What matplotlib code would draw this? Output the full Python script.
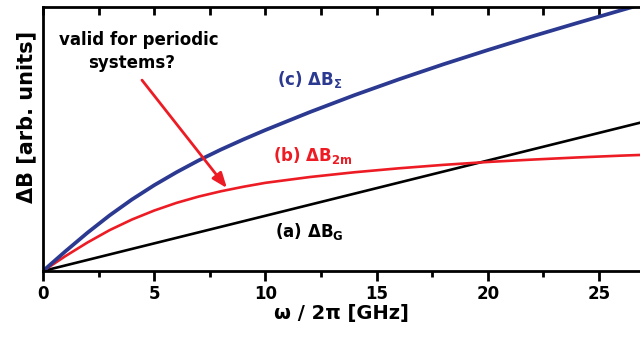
import numpy as np
import matplotlib.pyplot as plt
from matplotlib.ticker import MultipleLocator

plt.rcParams['font.family'] = 'DejaVu Sans'
plt.rcParams['font.weight'] = 'bold'
plt.rcParams['mathtext.default'] = 'bf'

# frequency omega/2pi in GHz and field contributions (arb. units)
freq = [0, 1, 2, 3, 4, 5, 6, 7, 8, 9, 10, 12, 14, 16, 18, 20, 22, 24, 26, 27]
dB_sigma = [0, 0.074, 0.145, 0.211, 0.271, 0.325, 0.374, 0.419, 0.460, 0.498,
            0.534, 0.602, 0.666, 0.726, 0.783, 0.837, 0.889, 0.939, 0.988, 1.012]
dB_2m = [0, 0.056, 0.108, 0.155, 0.195, 0.229, 0.258, 0.282, 0.302, 0.319,
         0.334, 0.356, 0.374, 0.389, 0.402, 0.413, 0.422, 0.430, 0.437, 0.440]

freq_G = [0, 27]
dB_G = [0, 0.565]

blue = '#2b3990'
red = '#ed1c24'

fig = plt.figure(figsize=(6.4, 3.37), dpi=100)
ax = fig.add_axes([43 / 640, 66 / 337, 597 / 640, 264 / 337])

ax.plot(freq_G, dB_G, color='black', lw=1.9)
ax.plot(freq, dB_2m, color=red, lw=1.9)
ax.plot(freq, dB_sigma, color=blue, lw=2.7)

ax.set_xlim(0, 26.84)
ax.set_ylim(0, 1)

for s in ['left', 'bottom', 'top']:
    ax.spines[s].set_linewidth(2)
ax.spines['right'].set_visible(False)

ax.xaxis.set_major_locator(MultipleLocator(5))
ax.xaxis.set_minor_locator(MultipleLocator(2.5))
ax.set_yticks([])
ax.tick_params(axis='x', which='major', direction='out', length=7, width=2,
               labelsize=12, pad=3)
ax.tick_params(axis='x', which='minor', direction='out', length=4, width=2)
ax.tick_params(axis='x', which='both', top=True)
# top ticks point inwards
for t in ax.xaxis.get_major_ticks() + ax.xaxis.get_minor_ticks():
    t.tick2line.set_marker(3)
    t.tick2line.set_markersize(6)

ax.set_xlabel('ω / 2π [GHz]', fontsize=14, fontweight='bold')
ax.xaxis.set_label_coords(0.5, -0.125)
ax.set_ylabel('ΔB [arb. units]', fontsize=15, fontweight='bold')
ax.yaxis.set_label_coords(-0.012, 0.583)

ax.text(10.52, 0.705, r'(c) $\Delta B_{\Sigma}$', color=blue, fontsize=12)
ax.text(10.34, 0.417, r'(b) $\Delta B_{2m}$', color=red, fontsize=12)
ax.text(10.43, 0.129, r'(a) $\Delta B_{G}$', color='black', fontsize=12)

ax.text(4.32, 0.856, 'valid for periodic', ha='center', fontsize=12)
ax.text(4.0, 0.769, 'systems?', ha='center', fontsize=12)
ax.annotate('', xy=(8.27, 0.314), xytext=(4.45, 0.723),
            arrowprops=dict(arrowstyle='-|>,head_length=0.9,head_width=0.35',
                            color=red, lw=2, shrinkA=0, shrinkB=0))

fig.savefig('out.png', dpi=100)
